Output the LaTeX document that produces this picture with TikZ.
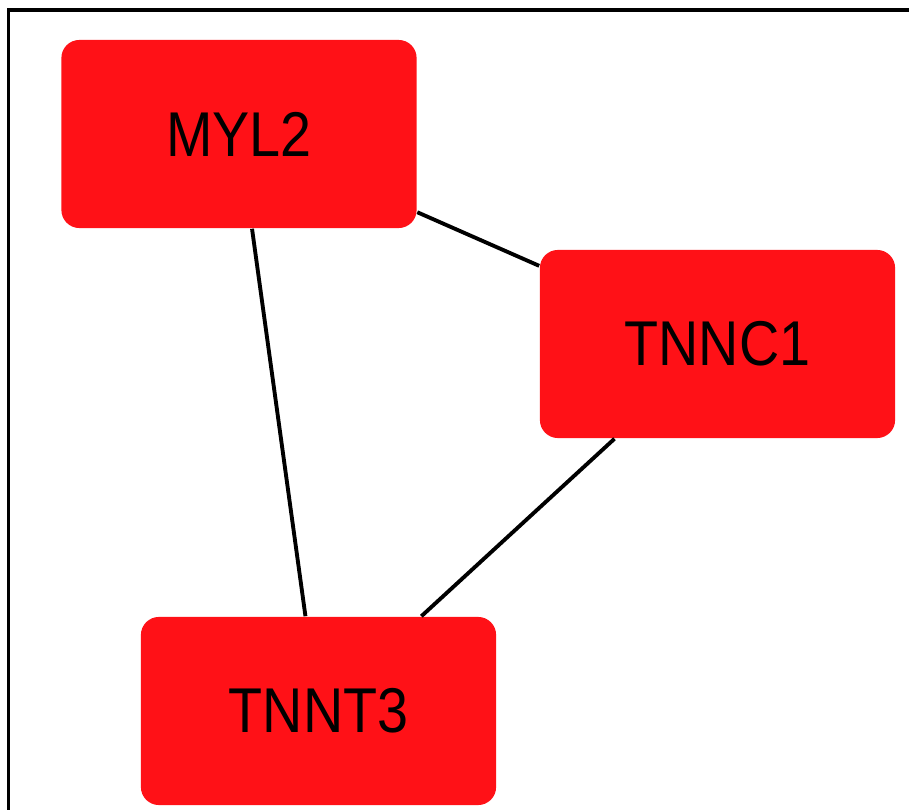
\documentclass[tikz,border=0pt]{standalone}
\usepackage{fontspec}
\newfontfamily\genefont[FakeStretch=0.88]{Liberation Sans}
\definecolor{genered}{RGB}{255,17,23}

\begin{document}
\begin{tikzpicture}[x=0.01cm,y=-0.01cm]

    \tikzset{
      gene/.style={
        fill=genered,
        rounded corners=0.18cm,
        minimum width=3.55cm,
        minimum height=1.88cm,
        inner sep=0pt,
        font=\genefont\fontsize{18}{20}\selectfont,
      },
      link/.style={
        draw=black,
        line width=1.1pt,
      },
    }
    \useasboundingbox (0,0) rectangle (909,810);
    \draw[line width=1pt] (8.5,810)--(8.5,10)--(909,10);
	\node[gene] (myl2) at (239,134) {MYL2};
	\node[gene] (tnnc1) at (717.5,344) {TNNC1};
	\node[gene] (tnnt3) at (318.5,711) {TNNT3};
	\draw[link] (myl2)--(tnnc1);
	\draw[link] (myl2)--(tnnt3);
	\draw[link] (tnnc1)--(tnnt3);

\end{tikzpicture}
\end{document}
